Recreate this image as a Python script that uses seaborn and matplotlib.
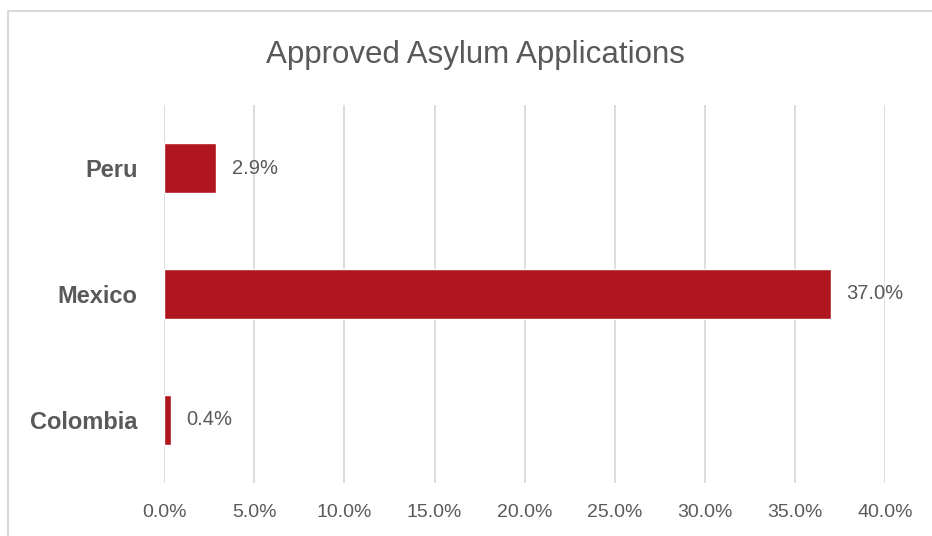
import matplotlib
matplotlib.use("Agg")
import matplotlib.pyplot as plt
from matplotlib.patches import Rectangle
from matplotlib.ticker import PercentFormatter
import pandas as pd
import seaborn as sns

# ---------------- data ----------------
COUNTRIES = ["Peru", "Mexico", "Colombia"]
APPROVED = [0.029, 0.370, 0.004]          # share of applications approved
X_TICKS = [0.0, 0.05, 0.10, 0.15, 0.20, 0.25, 0.30, 0.35, 0.40]

# ---------------- style ----------------
BAR_COLOR = "#AF1620"
TEXT_GRAY = "#595959"
GRID_GRAY = "#D9D9D9"
TITLE = "Approved Asylum Applications"

df = pd.DataFrame({"country": COUNTRIES, "approved": APPROVED})

sns.set_theme(style="white")
plt.rcParams["font.family"] = ["Liberation Sans", "DejaVu Sans"]

fig = plt.figure(figsize=(9.32, 5.36), dpi=100)
ax = fig.add_axes([0.176, 0.099, 0.774, 0.705])

sns.barplot(data=df, x="approved", y="country", order=COUNTRIES, orient="h",
            color=BAR_COLOR, saturation=1, width=0.4, ax=ax, zorder=3)

ax.bar_label(ax.containers[0], fmt=lambda v: f"{v:.1%}", padding=11,
             fontsize=14.5, color=TEXT_GRAY)

ax.set_xlim(0, 0.40)
ax.set_xticks(X_TICKS)
ax.xaxis.set_major_formatter(PercentFormatter(1.0, decimals=1))
ax.grid(axis="x", color=GRID_GRAY, linewidth=1.3, zorder=0)
ax.grid(axis="y", visible=False)
ax.set_axisbelow(True)
for s in ax.spines.values():
    s.set_visible(False)
ax.set_xlabel("")
ax.set_ylabel("")
ax.tick_params(axis="x", length=0, pad=15, labelsize=14, labelcolor=TEXT_GRAY)
ax.tick_params(axis="y", length=0, pad=19, labelsize=17, labelcolor=TEXT_GRAY)
for lbl in ax.get_yticklabels():
    lbl.set_fontweight("bold")

fig.text(0.51, 0.898, TITLE, ha="center", va="center", fontsize=22.5, color=TEXT_GRAY)

# chart-area border (only top and left edges fall inside the image)
top = 1 - 11 / 536
fig.add_artist(Rectangle((8 / 932, -0.2), 1.2, top + 0.2,
                         transform=fig.transFigure, fill=False,
                         edgecolor=GRID_GRAY, linewidth=1.5, clip_on=False))

fig.savefig("out.png", dpi=100)
plt.close(fig)
